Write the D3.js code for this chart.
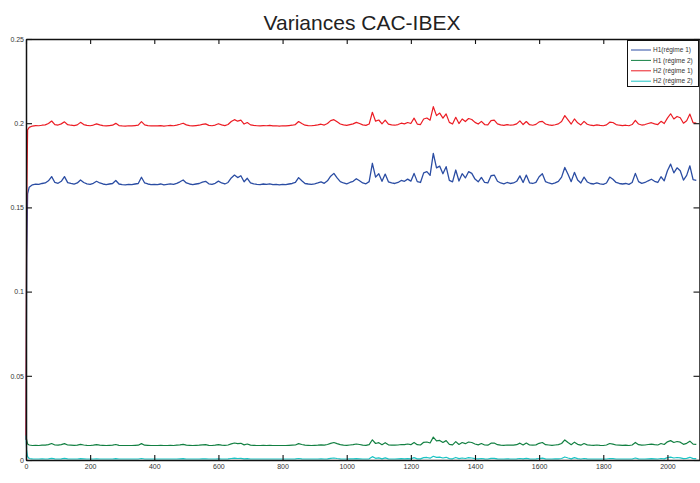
<!DOCTYPE html>
<html><head><meta charset="utf-8">
<script src="https://cdn.jsdelivr.net/npm/d3@7"></script>
<style>
html,body{margin:0;padding:0;background:#fff;}
svg{display:block;font-family:"Liberation Sans",Arial,Helvetica,sans-serif;}
</style></head>
<body><svg id="c" width="700" height="483"></svg>
<script>
// ---- data ----
const title = "Variances CAC-IBEX";
const seriesNames = ["H1(régime 1)", "H1 (régime 2)", "H2 (régime 1)", "H2 (régime 2)"];
const xTicks = [0,200,400,600,800,1000,1200,1400,1600,1800,2000];
const yTicks = [0,0.05,0.1,0.15,0.2,0.25];
const yTickLabels = ["0","0.05","0.1","0.15","0.2","0.25"];
// sample positions (time index)
const tLead = [0,2,5];
const tGrid = d3.range(10, 2100, 10);
const tVals = tLead.concat(tGrid);

const h1r1 = [0.012,0.120,0.158,0.1620,
.1634,.1638,.1637,.1642,.1645,.1658,.1683,.1648,.1643,.1655,
.1683,.1647,.1642,.1638,.1645,.1663,.1648,.1640,.1637,.1643,
.1655,.1645,.1639,.1635,.1639,.1642,.1660,.1639,.1635,.1634,
.1637,.1635,.1639,.1642,.1679,.1645,.1639,.1635,.1637,.1635,
.1639,.1634,.1637,.1640,.1637,.1643,.1652,.1663,.1645,.1639,
.1635,.1639,.1642,.1650,.1655,.1640,.1637,.1643,.1656,.1645,
.1639,.1648,.1675,.1692,.1677,.1688,.1652,.1673,.1645,.1640,
.1637,.1635,.1639,.1637,.1640,.1635,.1637,.1634,.1637,.1635,
.1639,.1642,.1648,.1677,.1658,.1642,.1639,.1637,.1640,.1645,
.1652,.1643,.1658,.1685,.1702,.1675,.1653,.1645,.1640,.1648,
.1655,.1670,.1658,.1645,.1640,.1653,.1762,.1680,.1700,.1655,
.1698,.1652,.1645,.1642,.1648,.1660,.1655,.1668,.1656,.1702,
.1653,.1648,.1705,.1712,.1690,.1821,.1735,.1745,.1700,.1742,
.1660,.1652,.1722,.1657,.1700,.1675,.1712,.1702,.1668,.1652,
.1678,.1648,.1645,.1688,.1692,.1655,.1645,.1640,.1648,.1642,
.1645,.1655,.1687,.1648,.1692,.1646,.1642,.1649,.1682,.1700,
.1653,.1645,.1640,.1646,.1655,.1680,.1737,.1697,.1653,.1708,
.1663,.1645,.1680,.1651,.1642,.1639,.1645,.1640,.1637,.1645,
.1680,.1667,.1648,.1642,.1639,.1642,.1637,.1648,.1702,.1653,
.1643,.1648,.1658,.1667,.1655,.1648,.1682,.1658,.1718,.1757,
.1705,.1735,.1718,.1662,.1690,.1747,.1665,.1661];

const h1r2 = [.0145,.0120,.0095,.0089,
.0086,.0087,.0086,.0088,.0088,.0091,.0098,.0089,.0088,.0091,
.0097,.0089,.0088,.0087,.0088,.0093,.0089,.0087,.0086,.0088,
.0091,.0088,.0087,.0086,.0087,.0088,.0092,.0087,.0086,.0086,
.0086,.0086,.0087,.0088,.0097,.0088,.0087,.0086,.0086,.0086,
.0087,.0086,.0086,.0087,.0086,.0088,.0090,.0093,.0088,.0087,
.0086,.0087,.0088,.0090,.0091,.0087,.0086,.0088,.0091,.0088,
.0087,.0089,.0096,.0101,.0097,.0099,.0090,.0095,.0088,.0087,
.0086,.0086,.0087,.0086,.0087,.0086,.0086,.0086,.0086,.0086,
.0087,.0088,.0089,.0097,.0092,.0088,.0087,.0086,.0087,.0088,
.0090,.0088,.0092,.0099,.0104,.0097,.0091,.0088,.0087,.0089,
.0091,.0095,.0092,.0088,.0087,.0091,.0120,.0098,.0103,.0091,
.0103,.0090,.0088,.0088,.0089,.0092,.0091,.0095,.0091,.0104,
.0091,.0089,.0105,.0107,.0101,.0136,.0114,.0116,.0104,.0115,
.0093,.0090,.0109,.0092,.0104,.0097,.0107,.0104,.0095,.0090,
.0098,.0089,.0088,.0100,.0101,.0091,.0088,.0087,.0089,.0088,
.0088,.0091,.0100,.0089,.0101,.0089,.0088,.0090,.0099,.0104,
.0091,.0089,.0087,.0089,.0091,.0098,.0119,.0104,.0091,.0106,
.0093,.0088,.0098,.0090,.0088,.0087,.0089,.0087,.0086,.0089,
.0098,.0094,.0089,.0088,.0087,.0088,.0086,.0089,.0104,.0091,
.0088,.0089,.0092,.0094,.0091,.0089,.0098,.0092,.0108,.0115,
.0104,.0110,.0106,.0093,.0099,.0112,.0094,.0093];

const h2r1 = [0.012,0.150,0.196,0.1975,
.1983,.1986,.1985,.1988,.1990,.1998,.2013,.1992,.1989,.1996,
.2008,.1991,.1988,.1986,.1990,.2005,.1992,.1987,.1985,.1989,
.1996,.1990,.1986,.1984,.1986,.1988,.1999,.1986,.1984,.1983,
.1985,.1984,.1986,.1988,.2009,.1990,.1986,.1984,.1985,.1984,
.1986,.1983,.1985,.1987,.1985,.1989,.1994,.2000,.1990,.1986,
.1984,.1986,.1988,.1993,.1996,.1987,.1985,.1989,.1997,.1990,
.1986,.1992,.2010,.2021,.2012,.2018,.1995,.2004,.1990,.1987,
.1985,.1984,.1986,.1985,.1987,.1984,.1985,.1983,.1985,.1984,
.1986,.1988,.1992,.2010,.1998,.1988,.1986,.1985,.1987,.1990,
.1994,.1989,.1998,.2015,.2021,.2008,.1995,.1990,.1987,.1992,
.1996,.2005,.1998,.1990,.1987,.1995,.2065,.2012,.2019,.1996,
.2018,.1994,.1990,.1988,.1992,.2000,.1996,.2004,.1998,.2030,
.1995,.1992,.2025,.2031,.2018,.2098,.2045,.2060,.2030,.2055,
.2005,.1995,.2035,.1998,.2025,.2010,.2028,.2022,.2005,.1995,
.2011,.1992,.1990,.2015,.2018,.1996,.1990,.1987,.1992,.1988,
.1990,.1996,.2014,.1992,.2010,.1991,.1988,.1993,.2008,.2011,
.1995,.1990,.1987,.1991,.1996,.2010,.2045,.2020,.1995,.2025,
.2002,.1990,.2011,.1994,.1988,.1986,.1990,.1987,.1985,.1990,
.2006,.2004,.1992,.1988,.1986,.1988,.1985,.1992,.2017,.1995,
.1989,.1992,.1998,.2003,.1996,.1992,.2011,.1998,.2030,.2056,
.2025,.2040,.2032,.2000,.2015,.2054,.2003,.2001];

const h2r2 = [.0145,.0060,.0020,.0009,
.0007,.0006,.0006,.0007,.0006,.0007,.0010,.0007,.0006,.0007,
.0010,.0007,.0006,.0006,.0006,.0008,.0007,.0006,.0006,.0006,
.0007,.0006,.0006,.0006,.0006,.0006,.0008,.0006,.0006,.0006,
.0006,.0006,.0006,.0006,.0009,.0006,.0006,.0006,.0006,.0006,
.0006,.0006,.0006,.0006,.0006,.0006,.0007,.0008,.0006,.0006,
.0006,.0006,.0006,.0007,.0007,.0006,.0006,.0006,.0007,.0006,
.0006,.0007,.0009,.0011,.0009,.0010,.0007,.0008,.0006,.0006,
.0006,.0006,.0006,.0006,.0006,.0006,.0006,.0006,.0006,.0006,
.0006,.0006,.0007,.0009,.0007,.0006,.0006,.0006,.0006,.0006,
.0007,.0006,.0007,.0010,.0012,.0009,.0007,.0006,.0006,.0007,
.0007,.0008,.0007,.0006,.0006,.0007,.0020,.0010,.0013,.0007,
.0013,.0007,.0006,.0006,.0007,.0008,.0007,.0008,.0007,.0014,
.0007,.0007,.0014,.0015,.0011,.0022,.0016,.0017,.0012,.0016,
.0008,.0007,.0015,.0008,.0012,.0009,.0014,.0012,.0008,.0007,
.0009,.0007,.0006,.0010,.0010,.0007,.0006,.0006,.0007,.0006,
.0006,.0007,.0009,.0007,.0010,.0007,.0006,.0007,.0009,.0011,
.0007,.0006,.0006,.0007,.0007,.0009,.0018,.0012,.0007,.0014,
.0008,.0006,.0009,.0007,.0006,.0006,.0006,.0006,.0006,.0006,
.0009,.0008,.0006,.0006,.0006,.0006,.0006,.0006,.0012,.0007,
.0006,.0006,.0007,.0008,.0007,.0006,.0009,.0007,.0014,.0017,
.0012,.0015,.0013,.0008,.0010,.0016,.0008,.0008];

const seriesColors = ["#2b4da3", "#138042", "#ec1c24", "#1cc4c4"];
const seriesWidths = [1.3, 1.2, 1.2, 1.2];

// ---- chart ----
const svg = d3.select("#c");
const L = 26, R = 699.5, T = 39, B = 460;
const x = d3.scaleLinear().domain([0, 2100]).range([L, R]);
const y = d3.scaleLinear().domain([0, 0.25]).range([B, T]);

svg.append("rect").attr("width",700).attr("height",483).attr("fill","#fff");

const allSeries = [h1r1, h1r2, h2r1, h2r2];
const line = d3.line().x(d => x(d[0])).y(d => y(d[1]));
allSeries.forEach((s, i) => {
  const pts = d3.zip(tVals, s);
  svg.append("path").datum(pts)
    .attr("d", line)
    .attr("fill","none")
    .attr("stroke", seriesColors[i])
    .attr("stroke-width", seriesWidths[i])
    .attr("stroke-linejoin","round");
});

const axisColor = "#111";
const gx = svg.append("g").attr("transform",`translate(0,${B})`)
  .call(d3.axisBottom(x).tickValues(xTicks).tickFormat(d3.format("d")).tickSizeInner(-5).tickSizeOuter(0).tickPadding(4));
const gxt = svg.append("g").attr("transform",`translate(0,${T})`)
  .call(d3.axisTop(x).tickValues(xTicks).tickFormat("").tickSizeInner(-5).tickSizeOuter(0));
const gy = svg.append("g").attr("transform",`translate(${L},0)`)
  .call(d3.axisLeft(y).tickValues(yTicks).tickFormat((d,i)=>yTickLabels[i]).tickSizeInner(-6).tickSizeOuter(0).tickPadding(2));
const gyr = svg.append("g").attr("transform",`translate(${R},0)`)
  .call(d3.axisRight(y).tickValues(yTicks).tickFormat("").tickSizeInner(-6).tickSizeOuter(0));

[gx,gxt,gy,gyr].forEach(g => {
  g.selectAll(".domain").attr("stroke",axisColor).attr("stroke-width",1.5);
  g.selectAll(".tick line").attr("stroke",axisColor).attr("stroke-width",1.1);
  g.selectAll("text").attr("fill","#333").style("font-size","7px").style("font-family","'Liberation Sans',Arial,sans-serif");
});

svg.append("text").attr("x", 362).attr("y", 30).attr("text-anchor","middle")
  .style("font-size","21px").attr("fill","#222").text(title);

const lg = svg.append("g");
lg.append("rect").attr("x",627.5).attr("y",40.5).attr("width",71).attr("height",46)
  .attr("fill","#fff").attr("stroke","#111").attr("stroke-width",1);
seriesNames.forEach((nm, i) => {
  const yy = 50 + i*10.4;
  lg.append("line").attr("x1",631).attr("x2",651).attr("y1",yy).attr("y2",yy)
    .attr("stroke",seriesColors[i]).attr("stroke-width",1);
  lg.append("text").attr("x",653).attr("y",yy).attr("dy","0.35em")
    .style("font-size","6.5px").attr("fill","#333").text(nm);
});
</script></body></html>
